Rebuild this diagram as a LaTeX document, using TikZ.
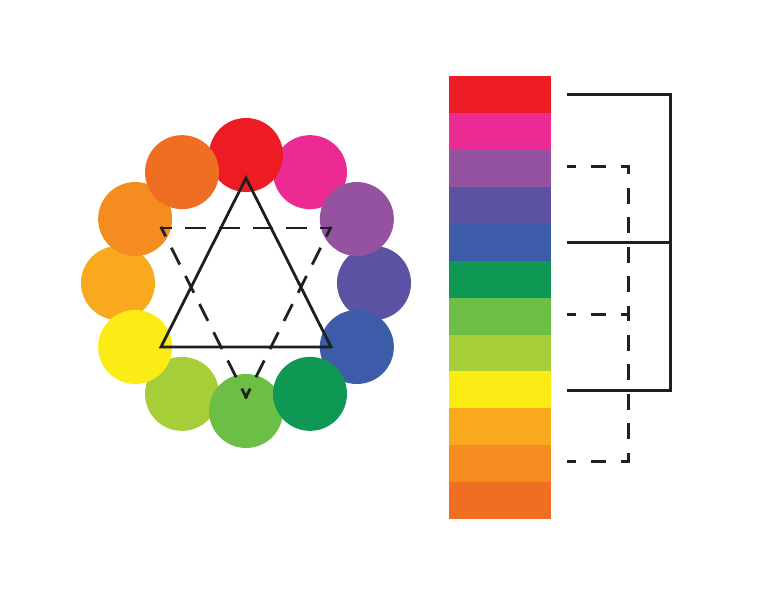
\documentclass[tikz,border=0pt]{standalone}
\usetikzlibrary{calc}
\definecolor{cRed}{HTML}{ED1C24}
\definecolor{cMagenta}{HTML}{EC2A94}
\definecolor{cPurple}{HTML}{9452A0}
\definecolor{cViolet}{HTML}{5C52A3}
\definecolor{cBlue}{HTML}{3C5CAA}
\definecolor{cDkGreen}{HTML}{0F9853}
\definecolor{cGreen}{HTML}{6CBE45}
\definecolor{cYlGreen}{HTML}{A6CE39}
\definecolor{cYellow}{HTML}{FAEC14}
\definecolor{cOrYellow}{HTML}{F8A91D}
\definecolor{cOrange}{HTML}{F48C20}
\definecolor{cRedOrange}{HTML}{F06E22}
\tikzset{
  wheeldot/.style={circle, minimum size=74pt, inner sep=0pt, draw=none},
  band/.style={rectangle, minimum width=102pt, minimum height=37pt, inner sep=0pt, draw=none, anchor=north west},
  solidline/.style={line width=2.8pt, black!88, line join=miter},
  triside/.style={line width=2.8pt, black!88, line cap=rect, dash pattern=on 18pt off 15.8pt, dash phase=9pt},
  trislant/.style={line width=2.8pt, black!88, line cap=rect, dash pattern=on 16pt off 15.5pt, dash phase=8pt},
  bracketh/.style={line width=2.8pt, black!88, line cap=rect, dash pattern=on 13pt off 17pt, dash phase=6.5pt},
  bracketv/.style={line width=2.8pt, black!88, line cap=rect, dash pattern=on 13pt off 16.4pt, dash phase=6.5pt},
}
\begin{document}
\begin{tikzpicture}[x=1pt,y=-1pt]
\useasboundingbox (0,0) rectangle (768,592);
% colour wheel (drawing order sets overlaps)
\def\cx{246}\def\cy{283}\def\R{128}
\foreach \i/\c in {1/cMagenta,3/cViolet,7/cYlGreen,9/cOrYellow,0/cRed,2/cPurple,4/cBlue,6/cGreen,5/cDkGreen,8/cYellow,10/cOrange,11/cRedOrange}{
  \node[wheeldot, fill=\c] (w\i) at ({\cx+\R*cos(90-30*\i)},{\cy-\R*sin(90-30*\i)}) {};
}
% solid triangle
\coordinate (t1) at (246,178);
\coordinate (t2) at (331,347);
\coordinate (t3) at (161,347);
\draw[solidline] (t1) -- (t2) -- (t3) -- cycle;
% dashed triangle
\coordinate (d1) at (161.5,228);
\coordinate (d2) at (330.5,228);
\coordinate (d3) at (246,397);
\draw[triside] (d1) -- (d2);
\draw[trislant] (d2) -- (d3);
\draw[trislant] (d3) -- (d1);
% colour strip
\foreach \i/\c in {0/cRed,1/cMagenta,2/cPurple,3/cViolet,4/cBlue,5/cDkGreen,6/cGreen,7/cYlGreen,8/cYellow,9/cOrYellow,10/cOrange,11/cRedOrange}{
  \node[band, fill=\c] (b\i) at (449,{76+36.9*\i}) {};
}
% solid bracket
\coordinate (s0) at ($(b0.east)+(16,0)$);
\coordinate (s4) at ($(b4.east)+(16,0)$);
\coordinate (s8) at ($(b8.east)+(16,0.5)$);
\coordinate (sv0) at ($(s0)+(103,0)$);
\coordinate (sv4) at ($(s4)+(103,0)$);
\coordinate (sv8) at ($(s8)+(103,0)$);
\draw[solidline] (s0) -- (sv0) -- (sv8) -- (s8);
\draw[solidline] (s4) -- (sv4);
% dashed bracket
\coordinate (p2) at ($(b2.east)+(17,-2)$);
\coordinate (p6) at ($(b6.east)+(17,-2)$);
\coordinate (p10) at ($(b10.east)+(17,-2)$);
\coordinate (pv2) at ($(p2)+(60,0)$);
\coordinate (pv6) at ($(p6)+(60,0)$);
\coordinate (pv10) at ($(p10)+(60,0)$);
\draw[bracketh] (p2) -- (pv2);
\draw[bracketv] (pv2) -- (pv10);
\draw[bracketh] (p10) -- (pv10);
\draw[bracketh] (p6) -- (pv6);
\end{tikzpicture}
\end{document}
